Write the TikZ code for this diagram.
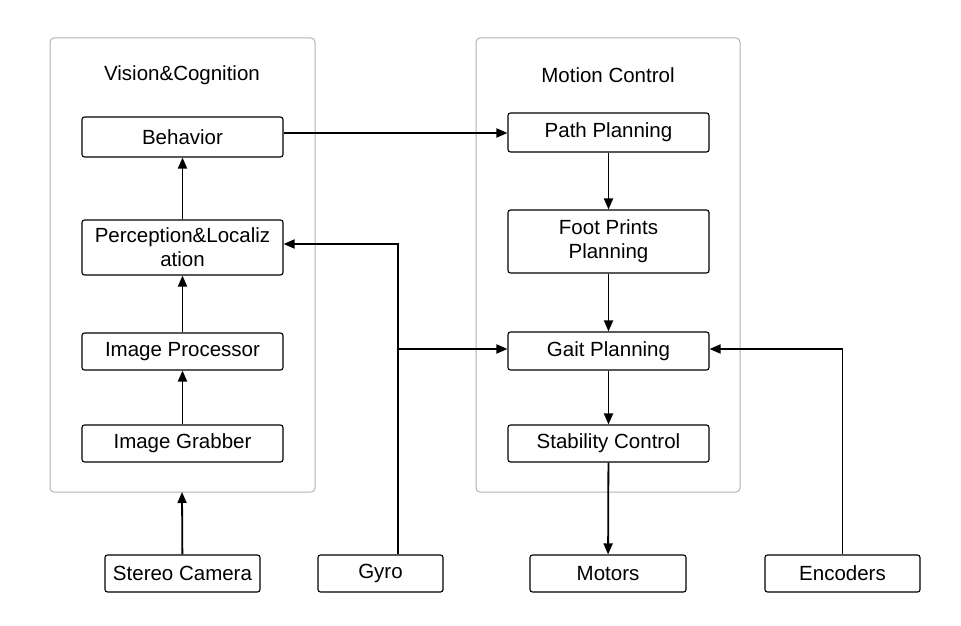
\documentclass[tikz,border=0pt]{standalone}
\usepackage{fontspec}
\setmainfont{Liberation Sans}
\usetikzlibrary{arrows.meta}
\begin{document}
\begin{tikzpicture}[x=1pt,y=-1pt,
  panel/.style={draw=black!30,rounded corners=4pt,line width=1pt},
  blk/.style={draw,rounded corners=2.5pt,line width=1.1pt,font=\fontsize{20.5}{24}\selectfont,align=center,inner sep=0pt},
  ttl/.style={font=\fontsize{20.5}{24}\selectfont},
  arr/.style={-{Triangle[length=11pt,width=9pt]},line width=1.8pt}]
\useasboundingbox (0,0) rectangle (961,626);
\draw[panel] (50,38) rectangle (315,492);
\draw[panel] (476,38) rectangle (740,492);
\node[ttl] (t1) at (182,75) {Vision\&Cognition};
\node[ttl] (t2) at (608,75) {Motion Control};
\coordinate (lp) at (182,492);
\node[blk,minimum width=201pt,minimum height=40pt] (beh) at (182.5,137) {Behavior};
\node[blk,minimum width=201pt,minimum height=55pt] (per) at (182.5,247.5) {Perception\&Localiz\\ation};
\node[blk,minimum width=201pt,minimum height=37pt] (ip) at (182.5,351.5) {Image Processor};
\node[blk,minimum width=201pt,minimum height=37pt] (ig) at (182.5,443.5) {Image Grabber};
\node[blk,minimum width=201pt,minimum height=39pt] (pp) at (608.5,132.5) {Path Planning};
\node[blk,minimum width=201pt,minimum height=63pt] (fp) at (608.5,241.5) {Foot Prints\\Planning};
\node[blk,minimum width=201pt,minimum height=38pt] (gp) at (608.5,351) {Gait Planning};
\node[blk,minimum width=201pt,minimum height=37pt] (sc) at (608.5,443.5) {Stability Control};
\node[blk,minimum width=155pt,minimum height=37pt] (cam) at (182.5,573.5) {Stereo Camera};
\node[blk,minimum width=125pt,minimum height=37pt] (gyro) at (380.5,573.5) {Gyro};
\node[blk,minimum width=156pt,minimum height=37pt] (mot) at (608,573.5) {Motors};
\node[blk,minimum width=155pt,minimum height=37pt] (enc) at (842.5,573.5) {Encoders};
\draw[arr] (cam) -- (lp);
\draw[arr] (ig) -- (ip);
\draw[arr] (ip) -- (per);
\draw[arr] (per) -- (beh);
\draw[arr] (beh.east |- 0,133) -- (pp.west |- 0,133);
\draw[arr] (pp) -- (fp);
\draw[arr] (fp) -- (gp);
\draw[arr] (gp) -- (sc);
\draw[arr] (sc) -- (mot);
\coordinate (gb) at (398,349);
\draw[arr] (gyro.north -| gb) |- (per.east |- 0,244);
\draw[arr] (gb) -- (gp.west |- gb);
\draw[arr] (enc.north) |- (gp.east |- gb);
\end{tikzpicture}
\end{document}
